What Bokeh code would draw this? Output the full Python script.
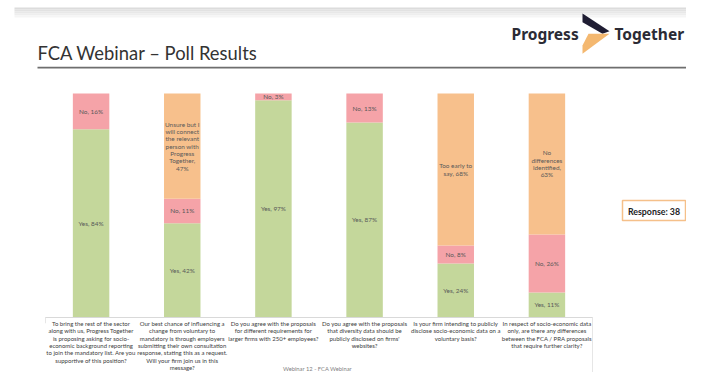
import numpy as np
from bokeh.plotting import figure
from bokeh.models import ColumnDataSource, Range1d, FixedTicker
from bokeh.core.properties import value
from bokeh.embed import file_html
from bokeh.resources import INLINE

# ---------------- data ----------------
questions = [
    "To bring the rest of the sector\nalong with us, Progress Together\nis proposing asking for socio-\neconomic background reporting\nto join the mandatory list. Are you\nsupportive of this position?",
    "Our best chance of influencing a\nchange from voluntary to\nmandatory is through employers\nsubmitting their own consultation\nresponse, stating this as a request.\nWill your firm join us in this\nmessage?",
    "Do you agree with the proposals\nfor different requirements for\nlarger firms with 250+ employees?",
    "Do you agree with the proposals\nthat diversity data should be\npublicly disclosed on firms'\nwebsites?",
    "Is your firm intending to publicly\ndisclose socio-economic data on a\nvoluntary basis?",
    "In respect of socio-economic data\nonly, are there any differences\nbetween the FCA / PRA proposals\nthat require further clarity?",
]
yes = [84, 42, 97, 87, 24, 11]
no = [16, 11, 3, 13, 8, 26]
other = [0, 47, 0, 0, 68, 63]
other_templates = [
    "",
    "Unsure but I\nwill connect\nthe relevant\nperson with\nProgress\nTogether,\n{}%",
    "",
    "",
    "Too early to\nsay, {}%",
    "No\ndifferences\nidentified,\n{}%",
]
response_count = 38
title_text = "FCA Webinar \u2013 Poll Results"
footer_text = "Webinar 12 - FCA Webinar"

GREEN = "#C4D79B"
PINK = "#F5A3A8"
ORANGE = "#F7C08C"

# ---------------- layout (figure pixels) ----------------
W, H = 686, 372
BAR_L, BAR_R, BAR_T, AXIS_Y = 45, 592, 93, 316.7
n = len(questions)
px_per_cat = (BAR_R - BAR_L) / n
px_per_pct = (AXIS_Y - BAR_T) / 100.0

xs = np.arange(n) + 0.5
src = ColumnDataSource(dict(x=xs, yes=yes, no=no, other=other))

p = figure(x_range=Range1d(-BAR_L / px_per_cat, n + (W - BAR_R) / px_per_cat),
           y_range=Range1d(-(H - AXIS_Y) / px_per_pct, AXIS_Y / px_per_pct),
           width=W, height=H, output_backend="svg", toolbar_location=None,
           min_border_left=0, min_border_right=0, min_border_top=0,
           min_border_bottom=0)
p.extra_x_ranges = {"px": Range1d(0, W)}
p.extra_y_ranges = {"py": Range1d(H, 0)}
p.outline_line_color = None
p.background_fill_color = "white"
p.border_fill_color = "white"
p.grid.visible = False
p.yaxis.visible = False

p.vbar_stack(["yes", "no", "other"], x="x", width=0.4, source=src,
             fill_color=[GREEN, PINK, ORANGE], line_color=None)

# segment labels
lx, ly, lt = [], [], []
for x_, y_, n_, o_, tpl in zip(xs, yes, no, other, other_templates):
    lx.append(x_); ly.append(y_ / 2); lt.append(f"Yes, {y_}%")
    lx.append(x_); ly.append(y_ + n_ / 2); lt.append(f"No, {n_}%")
    if o_ > 0:
        lx.append(x_); ly.append(y_ + n_ + o_ / 2); lt.append(tpl.format(o_))
lsrc = ColumnDataSource(dict(x=lx, y=ly, t=lt))
p.text(x="x", y="y", text="t", source=lsrc, text_align="center",
       text_baseline="middle", text_font_size="6.4px", text_color="#595959",
       text_line_height=1.05, text_font=value("Lato"))

ax = p.xaxis[0]
ax.fixed_location = 0
ax.ticker = FixedTicker(ticks=list(xs))
ax.major_label_overrides = {float(x_): q for x_, q in zip(xs, questions)}
ax.bounds = (0, n)
ax.major_label_text_font = "Lato"
ax.major_label_text_font_size = "6px"
ax.major_label_text_color = "#404040"
ax.major_label_text_line_height = 1.04
ax.major_label_standoff = 3
ax.major_tick_out = 0
ax.major_tick_in = 0
ax.major_tick_line_color = None
ax.minor_tick_line_color = None
ax.axis_line_color = "#D9D9D9"

PX = dict(x_range_name="px", y_range_name="py")

# top grey band (gradient approximation)
for i, c in enumerate(["#DCDCDC", "#E2E2E2", "#E8E8E8", "#EEEEEE", "#F5F5F5"]):
    p.quad(left=14, right=W, top=7 + 2 * i, bottom=9 + 2 * i, fill_color=c,
           line_color=None, **PX)
# rule under title
p.quad(left=37, right=W, top=66.3, bottom=67.9, fill_color="#6E6E6E",
       line_color=None, **PX)
# light frame lines of the label area
p.quad(left=[591.5, 44.5], right=[592.5, 45.5], top=[AXIS_Y, AXIS_Y],
       bottom=[H, AXIS_Y + 6], fill_color="#E6E6E6", line_color=None, **PX)

p.text(x=[37], y=[52], text=[title_text], text_font=value("Lato"),
       text_font_size="18.4px", text_color="#333333", text_baseline="alphabetic",
       **PX)

# logo (shifted slightly left so that it fits inside the page)
p.text(x=[511, 614], y=[33, 33], text=["Progress", "Together"],
       text_font=value("Noto Sans"), text_font_style="bold",
       text_font_size="15.5px", text_color="#2B2B35", text_baseline="middle", **PX)
p.patch(x=[582, 609, 602, 582], y=[13, 30.7, 33.3, 21.7], fill_color="#1F1D33",
        line_color=None, **PX)
p.patch(x=[588, 609, 582, 582], y=[33.3, 33.3, 53.3, 45], fill_color="#F4B870",
        line_color=None, **PX)

# response box
p.quad(left=622, right=685, top=200, bottom=220, fill_color="white",
       line_color="#F5C08A", line_width=1.5, **PX)
p.text(x=[653.5], y=[210.5], text=[f"Response: {response_count}"],
       text_font=value("Lato"), text_font_style="bold",
       text_font_size="8.8px", text_color="#222222", text_align="center",
       text_baseline="middle", **PX)

# footer
p.text(x=[317], y=[367.5], text=[footer_text], text_font=value("Lato"),
       text_font_size="5.8px", text_color="#7F7F7F", text_align="center",
       text_baseline="alphabetic", **PX)

open("out.html", "w").write(file_html(p, INLINE))
